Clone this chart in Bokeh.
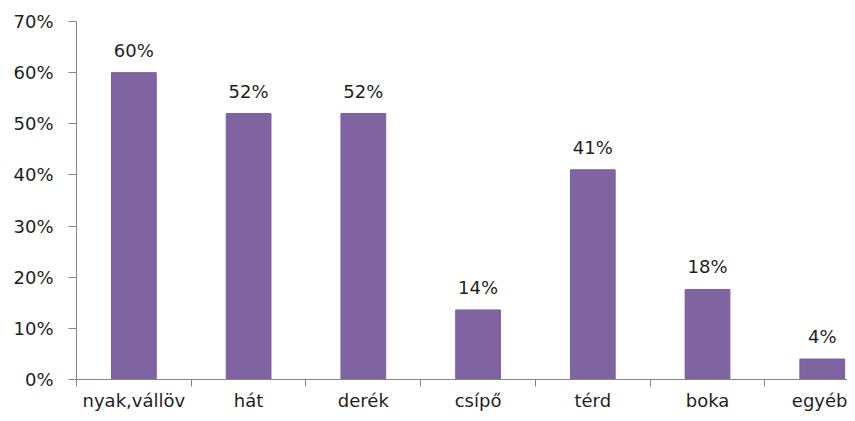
from bokeh.plotting import figure
from bokeh.models import ColumnDataSource, FixedTicker, NumeralTickFormatter, Range1d
from bokeh.core.properties import value
from bokeh.embed import file_html
from bokeh.resources import INLINE

categories = ["nyak,vállöv", "hát", "derék", "csípő", "térd", "boka", "egyéb"]
shares = [0.60, 0.52, 0.52, 0.136, 0.41, 0.176, 0.04]
share_labels = ["60%", "52%", "52%", "14%", "41%", "18%", "4%"]
y_ticks = [0.0, 0.1, 0.2, 0.3, 0.4, 0.5, 0.6, 0.7]

FONT = "DejaVu Sans"
TEXT = "#1e1e1e"
AXIS = "#868686"

xs = list(range(len(categories)))
src = ColumnDataSource(dict(x=xs, top=shares, lab=share_labels))

p = figure(width=847, height=413, output_backend="svg", toolbar_location=None,
           x_range=Range1d(-0.5, 6.22), y_range=Range1d(0, 0.7),
           min_border_left=76, min_border_right=0, min_border_top=21, min_border_bottom=30)
p.outline_line_color = None
p.grid.visible = False
p.background_fill_color = "white"
p.border_fill_color = "white"

p.vbar(x="x", top="top", width=0.39, bottom=0, source=src,
       fill_color="#8064A2", line_color="#7a5e9c", line_width=1)
p.text(x="x", y="top", text="lab", source=src, text_align="center",
       text_baseline="bottom", y_offset=-12, text_font=value(FONT),
       text_font_size="18px", text_color=TEXT)

xa = p.xaxis[0]
xa.ticker = FixedTicker(ticks=xs, minor_ticks=[i - 0.5 for i in range(len(categories) + 1)])
xa.major_label_overrides = {i: c for i, c in enumerate(categories)}
xa.major_tick_line_color = None
xa.major_tick_out = 0
xa.major_tick_in = 0
xa.minor_tick_line_color = AXIS
xa.minor_tick_out = 7
xa.minor_tick_in = 0
xa.axis_line_color = AXIS
xa.major_label_text_font = FONT
xa.major_label_text_font_size = "18px"
xa.major_label_text_color = TEXT
xa.major_label_standoff = 3

ya = p.yaxis[0]
ya.ticker = FixedTicker(ticks=y_ticks, minor_ticks=[])
ya.formatter = NumeralTickFormatter(format="0%")
ya.major_tick_line_color = AXIS
ya.major_tick_out = 8
ya.major_tick_in = 0
ya.minor_tick_line_color = None
ya.axis_line_color = AXIS
ya.major_label_text_font = FONT
ya.major_label_text_font_size = "18px"
ya.major_label_text_color = TEXT
ya.major_label_standoff = 15

open("out.html", "w").write(file_html(p, INLINE))
